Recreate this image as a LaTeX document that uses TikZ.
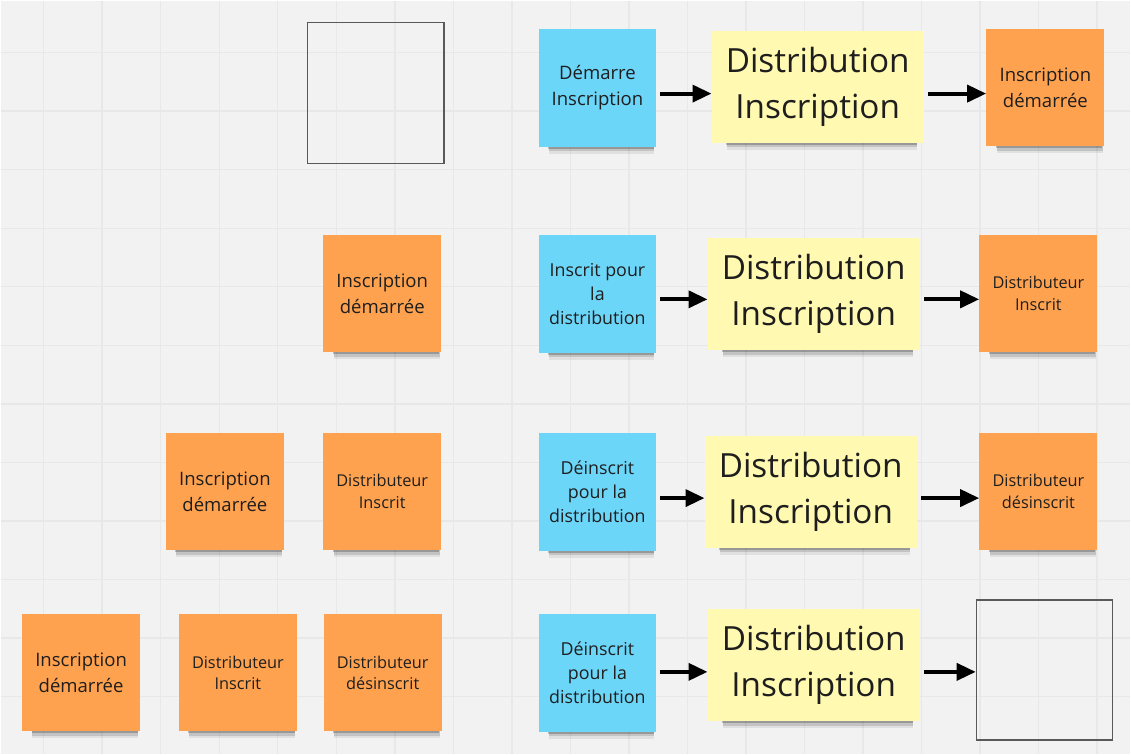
\documentclass[tikz,border=0pt]{standalone}
\usepackage{fontspec}
\setmainfont{Open Sans}
\usepackage{tikz}
\usetikzlibrary{arrows.meta}
\usetikzlibrary{shadows}
\usepackage{xcolor}
\definecolor{board}{HTML}{F2F2F2}
\definecolor{gridc}{HTML}{E8E8E8}
\definecolor{bluenote}{HTML}{6CD6F9}
\definecolor{orangenote}{HTML}{FFA24F}
\definecolor{yellownote}{HTML}{FFF9B1}
\definecolor{ink}{HTML}{1E1E1E}

\begin{document}
\begin{tikzpicture}[x=0.025cm, y=-0.025cm,
    sticky/.style={inner sep=0pt, align=center, text=ink,
        general shadow={fill=black, opacity=.07, shadow scale=.9, shadow yshift=-0.36cm, shadow xshift=0.12cm},
        general shadow={fill=black, opacity=.13, shadow scale=.9, shadow yshift=-0.29cm, shadow xshift=0.12cm},
        general shadow={fill=black, opacity=.22, shadow scale=.9, shadow yshift=-0.22cm, shadow xshift=0.1cm}},
    event/.style={sticky, fill=orangenote, minimum width=2.95cm, minimum height=2.925cm},
    command/.style={sticky, fill=bluenote, minimum width=2.925cm, minimum height=2.95cm, font=\fontsize{12.7}{17}\selectfont},
    aggregate/.style={sticky, fill=yellownote, minimum width=5.3cm, minimum height=2.8cm, font=\fontsize{23.7}{32.6}\selectfont},
    mid/.style={font=\fontsize{13.2}{18.4}\selectfont},
    small/.style={font=\fontsize{11.6}{15.6}\selectfont},
    emptybox/.style={draw=black!65, line width=1.1pt},
    flow/.style={line width=2.8pt, -{Triangle[length=13.5pt, width=12pt]}, shorten <=3pt},
    gridline/.style={draw=gridc, line width=1pt}]

    % board
    \fill[board] (0,0) rectangle (1131,754);
    \foreach \i in {0,...,18}
        \draw[gridline] ({43+58.6*\i},0) -- ({43+58.6*\i},754);
    \foreach \j in {0,...,11}
        \draw[gridline] (0,{52+58.6*\j}) -- (1131,{52+58.6*\j});
    \useasboundingbox (0,0) rectangle (1131,754);

    % row 1
    \node[emptybox, minimum width=3.425cm, minimum height=3.525cm] (e1) at (375.5,92.5) {};
    \node[command, mid] (b1) at (597.5,87) {Démarre\\Inscription};
    \node[aggregate] (y1) at (818,86) {Distribution\\Inscription};
    \node[event, mid] (o1) at (1046,87) {Inscription\\démarrée};
    \coordinate (r1) at (0,93);
    \draw[flow] (b1.east |- r1) -- (y1.west |- r1);
    \draw[flow] (y1.east |- r1) -- (o1.west |- r1);

    % row 2
    \node[event, mid] (o21) at (382,293.5) {Inscription\\démarrée};
    \node[command] (b2) at (597.5,293.5) {Inscrit pour\\la\\distribution};
    \node[aggregate] (y2) at (814,293.5) {Distribution\\Inscription};
    \node[event, small] (o2) at (1039,293.5) {Distributeur\\Inscrit};
    \coordinate (r2) at (0,299);
    \draw[flow] (b2.east |- r2) -- (y2.west |- r2);
    \draw[flow] (y2.east |- r2) -- (o2.west |- r2);

    % row 3
    \node[event, mid] (o31) at (224.5,491.5) {Inscription\\démarrée};
    \node[event, small] (o32) at (382,491.5) {Distributeur\\Inscrit};
    \node[command] (b3) at (597.5,491.5) {Déinscrit\\pour la\\distribution};
    \node[aggregate] (y3) at (811,491.5) {Distribution\\Inscription};
    \node[event, small] (o3) at (1039,491.5) {Distributeur\\désinscrit};
    \coordinate (r3) at (0,498);
    \draw[flow] (b3.east |- r3) -- (y3.west |- r3);
    \draw[flow] (y3.east |- r3) -- (o3.west |- r3);

    % row 4
    \node[event, mid] (o41) at (80.5,673) {Inscription\\démarrée};
    \node[event, small] (o42) at (237.5,673) {Distributeur\\Inscrit};
    \node[event, small] (o43) at (382.5,673) {Distributeur\\désinscrit};
    \node[command] (b4) at (597.5,673) {Déinscrit\\pour la\\distribution};
    \node[aggregate] (y4) at (814,665) {Distribution\\Inscription};
    \node[emptybox, minimum width=3.4cm, minimum height=3.5cm] (e4) at (1045,670) {};
    \coordinate (r4) at (0,672);
    \draw[flow] (b4.east |- r4) -- (y4.west |- r4);
    \draw[flow] (y4.east |- r4) -- (e4.west |- r4);
\end{tikzpicture}
\end{document}
